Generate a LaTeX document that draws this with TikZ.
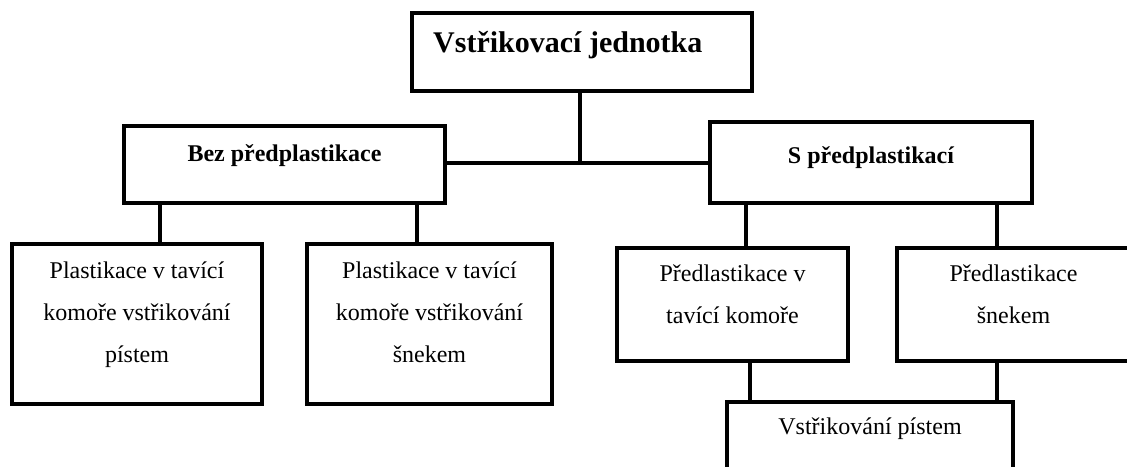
\documentclass[tikz,border=0pt]{standalone}
\usepackage{fontspec}
\setmainfont{Liberation Serif}
\begin{document}
\begin{tikzpicture}[x=1pt,y=-1pt,
  box/.style={draw=black, line width=3.2pt, rectangle, inner sep=0pt, outer sep=0pt, anchor=north west},
  conn/.style={draw=black, line width=3.2pt},
  head/.style={font=\bfseries\fontsize{24}{30}\selectfont, inner sep=0pt, anchor=base},
  title/.style={font=\bfseries\fontsize{30}{36}\selectfont, inner sep=0pt, anchor=base west},
  lbl/.style={font=\fontsize{24}{42}\selectfont, align=center, inner sep=0pt, anchor=base}]
\useasboundingbox (0,0) rectangle (1127,466);
\clip (0,0) rectangle (1127,466);
% boxes
\node[box, minimum width=340pt, minimum height=78pt] (top) at (412,13) {};
\node[box, minimum width=321pt, minimum height=77pt] (bez) at (124,126) {};
\node[box, minimum width=322pt, minimum height=81pt] (spl) at (710,122) {};
\node[box, minimum width=250pt, minimum height=160pt] (b1) at (12,244) {};
\node[box, minimum width=245pt, minimum height=160pt] (b2) at (307,244) {};
\node[box, minimum width=231pt, minimum height=113pt] (b3) at (617,248) {};
\node[box, minimum width=233pt, minimum height=113pt] (b4) at (897,248) {};
\node[box, minimum width=286pt, minimum height=90pt] (b5) at (727,402) {};
% texts (base anchor = baseline of the last line)
\node[title] (ttop) at (433,52) {Vstřikovací jednotka};
\node[head] (tbez) at (284.5,161) {Bez předplastikace};
\node[head] (tspl) at (871,163) {S předplastikací};
\node[lbl] (t1) at (137,362) {Plastikace v tavící\\komoře vstřikování\\pístem};
\node[lbl] (t2) at (429.5,362) {Plastikace v tavící\\komoře vstřikování\\šnekem};
\node[lbl] (t3) at (732.5,323) {Předlastikace v\\tavící komoře};
\node[lbl] (t4) at (1013.5,323) {Předlastikace\\šnekem};
\node[lbl] (t5) at (870,434) {Vstřikování pístem};
% connector positions
\coordinate (j) at (580,163);
\coordinate (c1) at (160,0);
\coordinate (c2) at (417,0);
\coordinate (c3) at (746,0);
\coordinate (c4) at (997,0);
\coordinate (c5) at (750,0);
% connectors
\draw[conn] (top.south -| j) -- (j);
\draw[conn] (bez.east |- j) -- (spl.west |- j);
\draw[conn] (bez.south -| c1) -- (b1.north -| c1);
\draw[conn] (bez.south -| c2) -- (b2.north -| c2);
\draw[conn] (spl.south -| c3) -- (b3.north -| c3);
\draw[conn] (spl.south -| c4) -- (b4.north -| c4);
\draw[conn] (b3.south -| c5) -- (b5.north -| c5);
\draw[conn] (b4.south -| c4) -- (b5.north -| c4);
\end{tikzpicture}
\end{document}
